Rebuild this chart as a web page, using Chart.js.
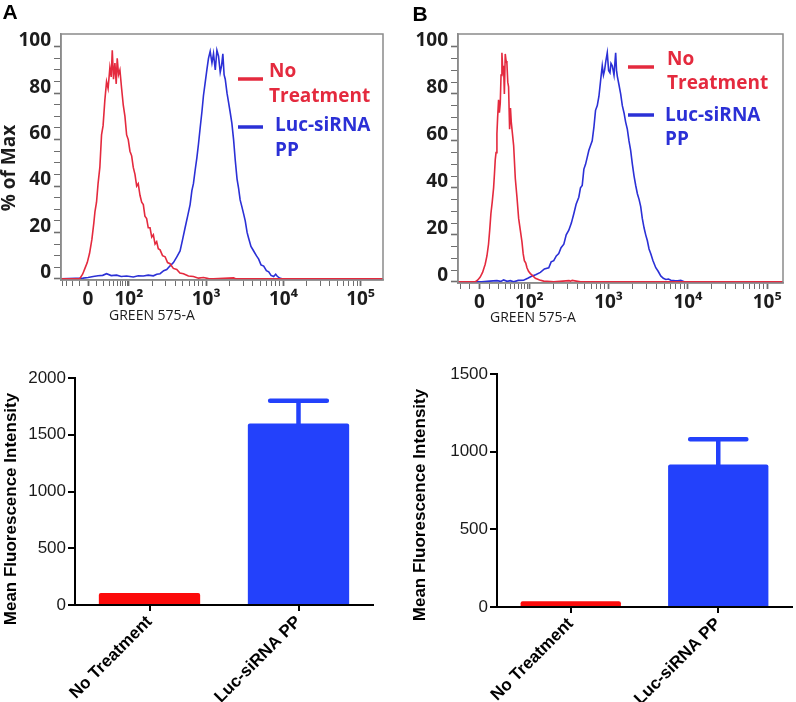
<!DOCTYPE html>
<html>
<head>
<meta charset="utf-8">
<script src="https://cdn.jsdelivr.net/npm/chart.js@4.4.1/dist/chart.umd.min.js"></script>
<style>
  html, body { margin: 0; padding: 0; background: #fff; }
  #wrap { position: relative; width: 796px; height: 702px; }
  #wrap canvas { position: absolute; left: 0; top: 0; }
</style>
</head>
<body>
<div id="wrap">
  <canvas id="histA" width="796" height="702"></canvas>
  <canvas id="histB" width="796" height="702"></canvas>
  <canvas id="barA" width="796" height="702"></canvas>
  <canvas id="barB" width="796" height="702"></canvas>
</div>
<script>
// ---- data ----
// histogram x = position on the biexponential display axis (in decades), y = % of max
const histTickLabels = ['0', '10²', '10³', '10⁴', '10⁵'];
const histTickPosA = [1.47, 2, 3, 4, 5];
const histTickPosB = [1.37, 2, 3, 4, 5];

const noTreatAx = [1.12, 1.36, 1.40, 1.43, 1.46, 1.49, 1.52, 1.545, 1.56, 1.58,
  1.60, 1.623, 1.645, 1.665, 1.688, 1.71, 1.73, 1.753, 1.77, 1.784,
  1.80, 1.818, 1.835, 1.848, 1.865, 1.883, 1.905, 1.926, 1.948, 1.97,
  1.991, 2.013, 2.035, 2.056, 2.078, 2.10, 2.12, 2.143, 2.165, 2.186,
  2.207, 2.229, 2.25, 2.273, 2.295, 2.316, 2.338, 2.359, 2.38, 2.403,
  2.435, 2.468, 2.50, 2.532, 2.575, 2.619, 2.66, 2.706, 2.77, 2.835,
  2.90, 2.965, 3.03, 3.095, 3.355, 3.38, 3.44, 5.29];
const noTreatAy = [0, 0, 2, 4.5, 7, 11, 17, 24, 29, 33,
  41, 48, 62, 66, 77, 85, 82, 91, 87, 98.5,
  86, 93, 84, 95, 88, 90, 82, 75, 70, 62,
  60, 55, 53, 48, 45, 40, 41, 36, 33, 32,
  27, 26, 22, 22, 18, 19, 15, 16, 13, 12.5,
  10, 9.5, 7, 6.5, 4.5, 4, 2.5, 2.2, 1.2, 1,
  0.3, 0.6, 0.1, 0, 0.4, 0, 0, 0];

const lucAx = [1.12, 1.407, 1.47, 1.537, 1.60, 1.66, 1.71, 1.77, 1.84, 1.90,
  1.97, 2.056, 2.12, 2.186, 2.25, 2.316, 2.36, 2.403, 2.45, 2.489,
  2.53, 2.576, 2.62, 2.662, 2.695, 2.727, 2.76, 2.792, 2.815, 2.835,
  2.858, 2.879, 2.90, 2.922, 2.945, 2.965, 2.985, 3.009, 3.03, 3.052,
  3.075, 3.095, 3.118, 3.139, 3.16, 3.182, 3.20, 3.216, 3.232, 3.247,
  3.27, 3.29, 3.31, 3.333, 3.355, 3.377, 3.40, 3.42, 3.44, 3.463,
  3.485, 3.506, 3.53, 3.55, 3.58, 3.615, 3.65, 3.68, 3.71, 3.745,
  3.78, 3.81, 3.84, 3.874, 3.90, 3.918, 3.95, 3.983, 5.29];
const lucAy = [0, 0.3, 0.6, 1, 1.3, 1.5, 2.2, 1.4, 1.6, 1.0,
  1.2, 0.8, 1.3, 1.2, 1.6, 1.3, 2, 2.2, 3.5, 4,
  5.5, 7, 9.5, 12, 17, 22, 27, 32, 38, 41,
  47, 52, 58, 65, 72, 79, 84, 90, 95, 98,
  93, 97, 90, 98.5, 96, 89, 92, 97, 88, 86,
  80, 76, 72, 67, 60, 51, 43, 39, 34, 31,
  28, 25, 20, 17.5, 14, 12, 10, 8.5, 6, 5.5,
  3.5, 3, 1.5, 1, 2, 1.2, 0.3, 0, 0];

const noTreatBx = [1.10, 1.316, 1.35, 1.38, 1.41, 1.443, 1.465, 1.485, 1.50, 1.515,
  1.532, 1.549, 1.56, 1.57, 1.58, 1.591, 1.60, 1.612, 1.622, 1.633,
  1.643, 1.654, 1.665, 1.675, 1.685, 1.696, 1.707, 1.717, 1.728, 1.738,
  1.751, 1.762, 1.772, 1.787, 1.802, 1.823, 1.844, 1.865, 1.886, 1.907,
  1.922, 1.937, 1.955, 1.97, 1.99, 2.013, 2.045, 2.076, 2.13, 2.181,
  2.308, 2.50, 2.519, 2.54, 2.646, 5.2];
const noTreatBy = [0, 0, 0.8, 2, 4, 7.5, 11, 16, 22, 29,
  34, 40, 46, 52, 55, 63, 70, 77.5, 72, 76,
  88, 97.5, 90, 92, 80, 97, 94, 93, 85, 83,
  65, 74, 68, 63, 58, 44, 36, 27, 22, 17,
  12, 9, 8, 6, 4.5, 3.5, 2.5, 1.5, 0.8, 0.3,
  0, 0.5, 0.3, 0.6, 0, 0];

const lucBx = [1.10, 1.40, 1.50, 1.591, 1.64, 1.675, 1.72, 1.76, 1.802, 1.86,
  1.928, 1.98, 2.034, 2.08, 2.139, 2.19, 2.245, 2.275, 2.308, 2.34,
  2.371, 2.40, 2.435, 2.465, 2.498, 2.53, 2.561, 2.59, 2.624, 2.645,
  2.667, 2.688, 2.709, 2.73, 2.751, 2.772, 2.793, 2.815, 2.835, 2.857,
  2.878, 2.90, 2.92, 2.935, 2.949, 2.965, 2.983, 3.00, 3.017, 3.03,
  3.046, 3.068, 3.089, 3.10, 3.11, 3.13, 3.152, 3.173, 3.194, 3.215,
  3.236, 3.257, 3.278, 3.30, 3.321, 3.342, 3.363, 3.385, 3.405, 3.425,
  3.447, 3.468, 3.489, 3.51, 3.532, 3.56, 3.595, 3.625, 3.658, 3.69,
  3.722, 3.755, 3.785, 3.83, 3.869, 3.91, 3.954, 5.2];
const lucBy = [0, 0, 0.3, 0.5, 0.2, 0.8, 0.2, 0.5, 0, 0.6,
  0.7, 1.5, 2.5, 3, 4, 5.5, 6, 8.5, 9, 11,
  12, 14.5, 16, 20, 22, 25, 29, 33, 36, 40,
  41, 48, 50, 53, 56, 58, 60, 66, 73, 75,
  79, 86, 92, 88, 90, 94, 97.5, 90, 89, 93,
  92, 88, 97.5, 90, 87.5, 84, 80, 75, 72, 68,
  65, 60, 56, 50, 45, 41, 37.5, 35, 32, 27,
  23, 20, 17.5, 14, 12, 9, 6, 4.5, 2.5, 1.5,
  1, 1.2, 0.7, 0.5, 0.4, 0.6, 0, 0];

// bar charts: mean fluorescence intensity with upper error
const groups = ['No Treatment', 'Luc-siRNA PP'];
const mfiA = [105, 1600];
const errA = [0, 200];
const mfiB = [37, 918];
const errB = [0, 162];

// ---- styling ----
const W = 796, H = 702;
const HIST_RED = '#e42a3e';
const HIST_BLUE = '#2b30d6';
const BAR_RED = '#fc0a0a';
const BAR_BLUE = '#2341fb';
const HIST_FONT = 'Open Sans';
const BAR_FONT = 'Liberation Sans';

// free text drawn at page coordinates (panel letters, axis titles)
const pageText = {
  id: 'pageText',
  afterDraw(chart, args, opts) {
    const ctx = chart.ctx;
    (opts.items || []).forEach(it => {
      ctx.save();
      ctx.translate(it.x, it.y);
      if (it.rotate) ctx.rotate(it.rotate * Math.PI / 180);
      ctx.font = it.font;
      ctx.fillStyle = it.color || '#000';
      ctx.textAlign = it.align || 'center';
      ctx.textBaseline = 'middle';
      ctx.fillText(it.text, 0, 0);
      ctx.restore();
    });
  }
};

// grey box around the histogram plot area
const frame = {
  id: 'frame',
  afterDraw(chart) {
    const a = chart.chartArea, ctx = chart.ctx;
    ctx.save();
    ctx.strokeStyle = '#8a8a8a';
    ctx.lineWidth = 1.5;
    ctx.strokeRect(a.left, a.top, a.right - a.left, a.bottom - a.top);
    ctx.restore();
  }
};

// legend inside the histogram: short line + label split on two rows
const histLegend = {
  id: 'histLegend',
  afterDraw(chart, args, opts) {
    const ctx = chart.ctx;
    chart.data.datasets.forEach((ds, i) => {
      const row = opts.rows[i];
      const words = ds.label.split(' ');
      ctx.save();
      ctx.strokeStyle = ds.borderColor;
      ctx.lineWidth = 3.5;
      ctx.beginPath();
      ctx.moveTo(opts.lineX, row.lineY);
      ctx.lineTo(opts.lineX + opts.lineLen, row.lineY);
      ctx.stroke();
      ctx.fillStyle = ds.borderColor;
      ctx.font = 'bold 19px "' + HIST_FONT + '"';
      ctx.textAlign = 'left';
      ctx.textBaseline = 'middle';
      ctx.fillText(words[0], row.textX, row.textY);
      ctx.fillText(words.slice(1).join(' '), row.textX, row.textY + opts.lineHeight);
      ctx.restore();
    });
  }
};

// upward-only error bars on the bar charts
const errorBars = {
  id: 'errorBars',
  afterDatasetsDraw(chart, args, opts) {
    const meta = chart.getDatasetMeta(0);
    const ds = chart.data.datasets[0];
    const y = chart.scales.y;
    const ctx = chart.ctx;
    ctx.save();
    ctx.lineCap = 'round';
    ctx.lineWidth = 4.5;
    meta.data.forEach((bar, i) => {
      const err = opts.values[i];
      if (!err) return;
      const top = y.getPixelForValue(ds.data[i] + err);
      const half = bar.width * opts.cap / 2;
      ctx.strokeStyle = ds.backgroundColor[i];
      ctx.beginPath();
      ctx.moveTo(bar.x, bar.y + 2);
      ctx.lineTo(bar.x, top);
      ctx.moveTo(bar.x - half, top);
      ctx.lineTo(bar.x + half, top);
      ctx.stroke();
    });
    ctx.restore();
  }
};

function histXTicks(major, min, max) {
  const zero = major[0];
  const span = 2 - zero;
  const biex = v => zero + span * Math.asinh(v / 20) / Math.asinh(5);
  const vals = major.slice();
  for (let v = -100; v <= 90; v += 10) if (v !== 0) vals.push(biex(v));
  for (let d = 2; d <= 5; d++) {
    for (let k = 2; k <= 9; k++) vals.push(d + Math.log10(k));
  }
  return vals.filter(v => v >= min && v <= max).sort((a, b) => a - b);
}

function isMajor(major, v) {
  return major.some(m => Math.abs(m - v) < 1e-9);
}

function toPoints(xs, ys) {
  return xs.map((x, i) => ({ x: x, y: ys[i] }));
}

function histChart(id, o) {
  const xTicks = histXTicks(o.major, o.xMin, o.xMax);
  return new Chart(document.getElementById(id), {
    type: 'line',
    data: {
      datasets: [
        { label: 'No Treatment', data: toPoints(o.redX, o.redY), borderColor: HIST_RED },
        { label: 'Luc-siRNA PP', data: toPoints(o.blueX, o.blueY), borderColor: HIST_BLUE }
      ]
    },
    options: {
      responsive: false,
      animation: false,
      devicePixelRatio: 1,
      layout: { padding: { left: 0, top: o.area.top, right: W - o.area.right, bottom: 0 } },
      elements: {
        point: { radius: 0 },
        line: { borderWidth: 1.6, tension: 0 }
      },
      scales: {
        x: {
          type: 'linear',
          min: o.xMin,
          max: o.xMax,
          afterFit: s => { s.height = H - o.area.bottom; },
          afterBuildTicks: s => { s.ticks = xTicks.map(v => ({ value: v })); },
          border: { color: '#8a8a8a', width: 1.5 },
          grid: {
            drawOnChartArea: false,
            tickLength: 6,
            color: '#6f6f6f',
            tickWidth: c => isMajor(o.major, c.tick.value) ? 1.8 : 1
          },
          ticks: {
            autoSkip: false,
            maxRotation: 0,
            padding: 2,
            color: '#1c1c1c',
            font: { family: HIST_FONT, size: 19, weight: 'bold' },
            callback: v => {
              const i = o.major.findIndex(m => Math.abs(m - v) < 1e-9);
              return i >= 0 ? histTickLabels[i] : '';
            }
          }
        },
        y: {
          min: -0.5,
          max: 105.5,
          afterFit: s => { s.width = o.area.left; },
          afterBuildTicks: s => {
            const t = [];
            for (let v = 0; v <= 100; v += 5) t.push({ value: v });
            s.ticks = t;
          },
          border: { color: '#8a8a8a', width: 1.5 },
          grid: {
            drawOnChartArea: false,
            tickLength: 7,
            color: '#6f6f6f',
            tickWidth: c => c.tick.value % 20 === 0 ? 1.6 : 1
          },
          ticks: {
            autoSkip: false,
            padding: 3,
            labelOffset: -6,
            color: '#1c1c1c',
            font: { family: HIST_FONT, size: 19, weight: 'bold' },
            callback: v => v % 20 === 0 ? v : ''
          }
        }
      },
      plugins: {
        legend: { display: false },
        tooltip: { enabled: false },
        histLegend: o.legend,
        pageText: { items: o.texts }
      }
    },
    plugins: [frame, histLegend, pageText]
  });
}

function barChart(id, o) {
  return new Chart(document.getElementById(id), {
    type: 'bar',
    data: {
      labels: groups,
      datasets: [{
        data: o.values,
        backgroundColor: [BAR_RED, BAR_BLUE],
        borderWidth: 0,
        borderRadius: 2,
        barPercentage: 0.68,
        categoryPercentage: 1
      }]
    },
    options: {
      responsive: false,
      animation: false,
      devicePixelRatio: 1,
      layout: { padding: { left: 0, top: o.area.top, right: W - o.area.right, bottom: 0 } },
      scales: {
        x: {
          afterFit: s => { s.height = H - o.area.bottom; },
          border: { color: '#000', width: 2 },
          grid: { drawOnChartArea: false, offset: false, tickLength: 6, color: '#000', lineWidth: 2 },
          ticks: {
            minRotation: 45,
            maxRotation: 45,
            padding: 1,
            color: '#000',
            font: { family: BAR_FONT, size: 17, weight: 'bold' }
          }
        },
        y: {
          min: 0,
          max: o.max,
          afterFit: s => { s.width = o.area.left; },
          border: { color: '#000', width: 2 },
          grid: { drawOnChartArea: false, tickLength: 7, color: '#000', lineWidth: 2 },
          ticks: {
            stepSize: 500,
            padding: 2,
            color: '#1a1a1a',
            font: { family: BAR_FONT, size: 17 },
            callback: v => String(v)
          }
        }
      },
      plugins: {
        legend: { display: false },
        tooltip: { enabled: false },
        errorBars: { values: o.errors, cap: 0.56 },
        pageText: { items: o.texts }
      }
    },
    plugins: [errorBars, pageText]
  });
}

const letterFont = 'bold 21px "Liberation Sans"';
const histTitleFont = '14px "' + HIST_FONT + '"';
const mfiTitleFont = 'bold 17px "Liberation Sans"';

histChart('histA', {
  area: { left: 61, right: 383, top: 34, bottom: 280 },
  xMin: 1.12, xMax: 5.29,
  major: histTickPosA,
  redX: noTreatAx, redY: noTreatAy,
  blueX: lucAx, blueY: lucAy,
  legend: {
    lineX: 238, lineLen: 25, lineHeight: 25,
    rows: [{ lineY: 79, textX: 269, textY: 71.5 }, { lineY: 127, textX: 275, textY: 125.5 }]
  },
  texts: [
    { text: 'A', x: 10, y: 13, font: letterFont },
    { text: '% of Max', x: 10, y: 168, rotate: -90, font: 'bold 19px "' + HIST_FONT + '"', color: '#1c1c1c' },
    { text: 'GREEN 575-A', x: 152, y: 316, font: histTitleFont, color: '#1c1c1c' }
  ]
});

histChart('histB', {
  area: { left: 458, right: 783, top: 34, bottom: 283 },
  xMin: 1.10, xMax: 5.20,
  major: histTickPosB,
  redX: noTreatBx, redY: noTreatBy,
  blueX: lucBx, blueY: lucBy,
  legend: {
    lineX: 628, lineLen: 26, lineHeight: 24,
    rows: [{ lineY: 67, textX: 667, textY: 60 }, { lineY: 115, textX: 665, textY: 116 }]
  },
  texts: [
    { text: 'B', x: 420, y: 15, font: letterFont },
    { text: 'GREEN 575-A', x: 533, y: 318, font: histTitleFont, color: '#1c1c1c' }
  ]
});

barChart('barA', {
  area: { left: 75, right: 373, top: 378, bottom: 605 },
  max: 2000,
  values: mfiA,
  errors: errA,
  texts: [{ text: 'Mean Fluorescence Intensity', x: 11, y: 509, rotate: -90, font: mfiTitleFont }]
});

barChart('barB', {
  area: { left: 497, right: 792, top: 374, bottom: 607 },
  max: 1500,
  values: mfiB,
  errors: errB,
  texts: [{ text: 'Mean Fluorescence Intensity', x: 420, y: 505, rotate: -90, font: mfiTitleFont }]
});
</script>
</body>
</html>
